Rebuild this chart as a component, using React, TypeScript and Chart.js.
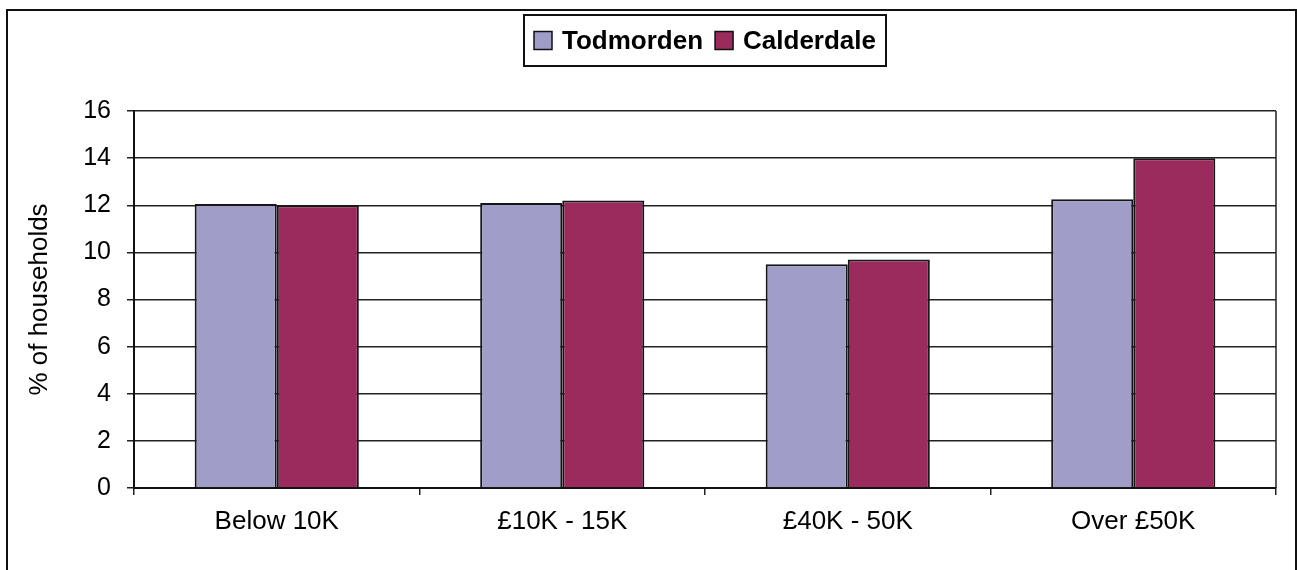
import React, { useEffect, useRef } from "react";
import { Chart, registerables } from "chart.js";

Chart.register(...registerables);

const categories = ["Below 10K", "£10K - 15K", "£40K - 50K", "Over £50K"];
const todmorden = [12.05, 12.1, 9.5, 12.25];
const calderdale = [12.0, 12.2, 9.7, 14.0];
const seriesNames = ["Todmorden", "Calderdale"];
const seriesColors = ["#A09EC8", "#9B2B5C"];
const yTitle = "% of households";

const FONT = "'Liberation Sans', Arial, Helvetica, sans-serif";

const framePlugin = {
  id: "frame",
  beforeDraw(chart: any) {
    const ctx = chart.ctx;
    ctx.save();
    ctx.fillStyle = "#fff";
    ctx.fillRect(0, 0, chart.width, chart.height);
    ctx.restore();
  },
  afterDraw(chart: any) {
    const ctx = chart.ctx;
    const a = chart.chartArea;
    ctx.save();
    // outer frame
    ctx.strokeStyle = "#111";
    ctx.lineWidth = 2;
    ctx.beginPath();
    ctx.moveTo(7, chart.height + 5);
    ctx.lineTo(7, 10);
    ctx.lineTo(1296, 10);
    ctx.lineTo(1296, chart.height + 5);
    ctx.stroke();
    // right plot border
    ctx.strokeStyle = "#222";
    ctx.lineWidth = 1.5;
    ctx.beginPath();
    ctx.moveTo(a.right, a.top);
    ctx.lineTo(a.right, a.bottom);
    ctx.stroke();

    // legend
    ctx.font = `bold 26px ${FONT}`;
    ctx.textBaseline = "middle";
    const box = 18;
    const gapText = 10;
    const gapItem = 12;
    const pad = 10;
    const widths = chart.data.datasets.map((d: any) => ctx.measureText(d.label).width);
    let total = pad * 2;
    widths.forEach((w: number, i: number) => {
      total += box + gapText + w + (i > 0 ? gapItem : 0);
    });
    const cx = (a.left + a.right) / 2;
    const left = Math.round(cx - total / 2);
    const top = 15;
    const h = 51;
    const cy = top + h / 2;
    ctx.strokeStyle = "#111";
    ctx.lineWidth = 2;
    ctx.strokeRect(left, top, total, h);
    let x = left + pad;
    chart.data.datasets.forEach((d: any, i: number) => {
      if (i > 0) x += gapItem;
      ctx.fillStyle = d.backgroundColor;
      ctx.fillRect(x, cy - box / 2, box, box);
      ctx.lineWidth = 1.5;
      ctx.strokeStyle = "#111";
      ctx.strokeRect(x, cy - box / 2, box, box);
      x += box + gapText;
      ctx.fillStyle = "#000";
      ctx.textAlign = "left";
      ctx.fillText(d.label, x, cy + 1);
      x += widths[i];
    });
    ctx.restore();
  },
};

export default function App() {
  const ref = useRef<HTMLCanvasElement>(null);
  useEffect(() => {
    document.body.style.margin = "0";
    if (!ref.current) return;
    const chart = new Chart(ref.current, {
      type: "bar",
      data: {
        labels: categories,
        datasets: [
          {
            label: seriesNames[0],
            data: todmorden,
            backgroundColor: seriesColors[0],
            borderColor: "#161616",
            borderWidth: 2,
            categoryPercentage: 0.575,
            barPercentage: 1.0,
          },
          {
            label: seriesNames[1],
            data: calderdale,
            backgroundColor: seriesColors[1],
            borderColor: "#161616",
            borderWidth: 2,
            categoryPercentage: 0.575,
            barPercentage: 1.0,
          },
        ],
      },
      options: {
        animation: false,
        responsive: false,
        maintainAspectRatio: false,
        layout: { padding: { top: 111, right: 21, left: 0, bottom: 0 } },
        plugins: {
          legend: { display: false },
          tooltip: { enabled: false },
        },
        scales: {
          x: {
            grid: {
              offset: true,
              drawOnChartArea: false,
              drawTicks: true,
              tickLength: 7,
              color: "#222",
              lineWidth: 1.5,
            },
            border: { color: "#111", width: 2 },
            ticks: {
              color: "#000",
              padding: 11,
              font: { family: FONT, size: 26 },
              maxRotation: 0,
            },
            afterFit: (s: any) => {
              s.height = 82;
            },
          },
          y: {
            min: 0,
            max: 16,
            ticks: {
              stepSize: 2,
              color: "#000",
              padding: 16,
              font: { family: FONT, size: 25 },
            },
            grid: {
              color: "#222",
              lineWidth: 1.5,
              tickLength: 7,
            },
            border: { color: "#111", width: 2 },
            title: {
              display: true,
              text: yTitle,
              color: "#000",
              font: { family: FONT, size: 26 },
              padding: { top: 24, bottom: 0 },
            },
            afterFit: (s: any) => {
              s.width = 134;
            },
          },
        },
      },
      plugins: [framePlugin],
    });
    return () => chart.destroy();
  }, []);
  return (
    <div style={{ width: 1297, height: 570 }}>
      <canvas ref={ref} width={1297} height={570} style={{ display: "block" }} />
    </div>
  );
}
